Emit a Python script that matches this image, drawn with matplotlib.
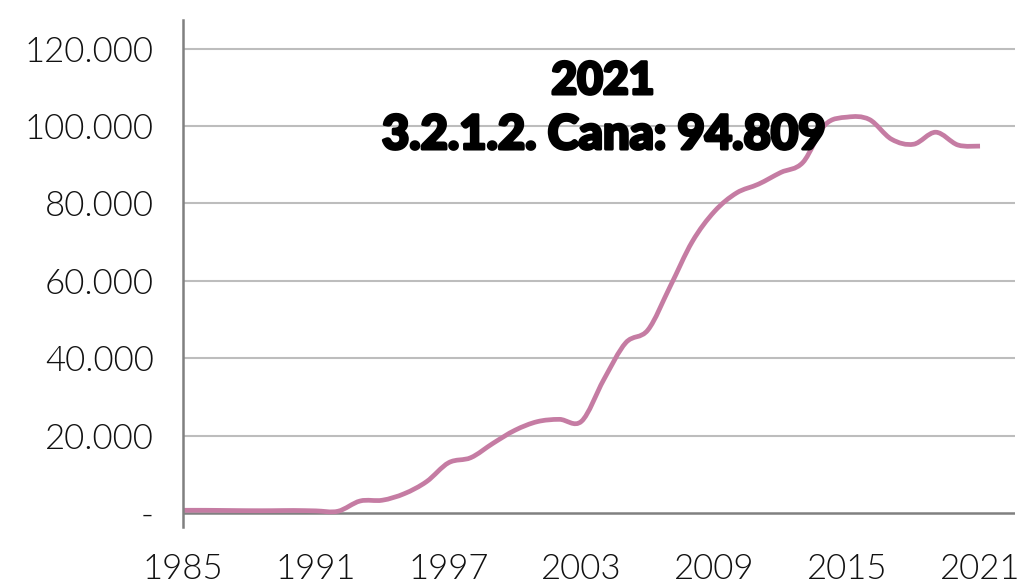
import matplotlib
matplotlib.use("Agg")
import matplotlib.pyplot as plt
from matplotlib.path import Path
from matplotlib.patches import PathPatch
import matplotlib.patheffects as pe
import numpy as np

years = list(range(1985, 2022))
values = [700, 700, 650, 600, 600, 650, 550, 450, 3100, 3300, 5000, 8100,
          13000, 14300, 18000, 21400, 23600, 24200, 23700, 34400, 44000, 47300,
          58500, 70100, 77900, 82700, 85000, 88000, 90600, 100300, 102300, 101700,
          96600, 95300, 98400, 95100, 94809]
x_ticks = [1985, 1991, 1997, 2003, 2009, 2015, 2021]
x_tick_labels = ["1985", "1991", "1997", "2003", "2009", "2015", "2021"]
y_ticks = [0, 20000, 40000, 60000, 80000, 100000, 120000]
y_tick_labels = ["-", "20.000", "40.000", "60.000", "80.000", "100.000", "120.000"]
title_line1 = "2021"
title_line2 = "3.2.1.2. Cana: 94.809"

LINE_COLOR = "#C57CA3"
GRID_COLOR = "#BDBDBD"
AXIS_COLOR = "#808080"

fig = plt.figure(figsize=(10.2, 5.85), dpi=100)
ax = fig.add_axes([183 / 1020, 58 / 585, (1015 - 183) / 1020, (527 - 20) / 585])

# smoothed line (Excel-like Bezier through the data points)
x = np.array(years, dtype=float)
y = np.array(values, dtype=float)
n = len(x)
verts = [(x[0], y[0])]
codes = [Path.MOVETO]
for i in range(n - 1):
    p0 = np.array([x[max(i - 1, 0)], y[max(i - 1, 0)]])
    p1 = np.array([x[i], y[i]])
    p2 = np.array([x[i + 1], y[i + 1]])
    p3 = np.array([x[min(i + 2, n - 1)], y[min(i + 2, n - 1)]])
    c1 = p1 + (p2 - p0) / 6.0
    c2 = p2 - (p3 - p1) / 6.0
    verts += [tuple(c1), tuple(c2), tuple(p2)]
    codes += [Path.CURVE4, Path.CURVE4, Path.CURVE4]
patch = PathPatch(Path(verts, codes), facecolor="none", edgecolor=LINE_COLOR,
                  lw=3.4, capstyle="butt", joinstyle="round", zorder=3)
ax.add_patch(patch)

ax.set_xlim(1985, 2022.58)
ax.set_ylim(-3620, 127400)

for yt in y_ticks[1:]:
    ax.axhline(yt, color=GRID_COLOR, lw=1.5, zorder=1)
ax.axhline(0, color=AXIS_COLOR, lw=1.8, zorder=2)

for s in ["top", "right", "bottom"]:
    ax.spines[s].set_visible(False)
ax.spines["left"].set_color(AXIS_COLOR)
ax.spines["left"].set_linewidth(1.8)
ax.spines["left"].set_zorder(4)

ax.set_xticks(x_ticks)
ax.set_xticklabels(x_tick_labels)
ax.set_yticks(y_ticks)
ax.set_yticklabels(y_tick_labels)

for lab in ax.get_xticklabels() + ax.get_yticklabels():
    lab.set_fontfamily("Lato")
    lab.set_fontweight(300)
    lab.set_fontsize(25)
    lab.set_color("#111111")
ax.tick_params(axis="x", length=0, pad=19)
ax.tick_params(axis="y", length=0, pad=21)

heavy = [pe.withStroke(linewidth=2.2, foreground="black")]
fig.text(603 / 1020, 1 - 81 / 585, title_line1, ha="center", va="center",
         fontfamily="Lato", fontweight="black", fontsize=32, color="black",
         zorder=10, path_effects=heavy)
fig.text(604 / 1020, 1 - 135 / 585, title_line2, ha="center", va="center",
         fontfamily="Lato", fontweight="black", fontsize=34, color="black",
         zorder=10, path_effects=heavy)

fig.savefig("out.png", dpi=100)
